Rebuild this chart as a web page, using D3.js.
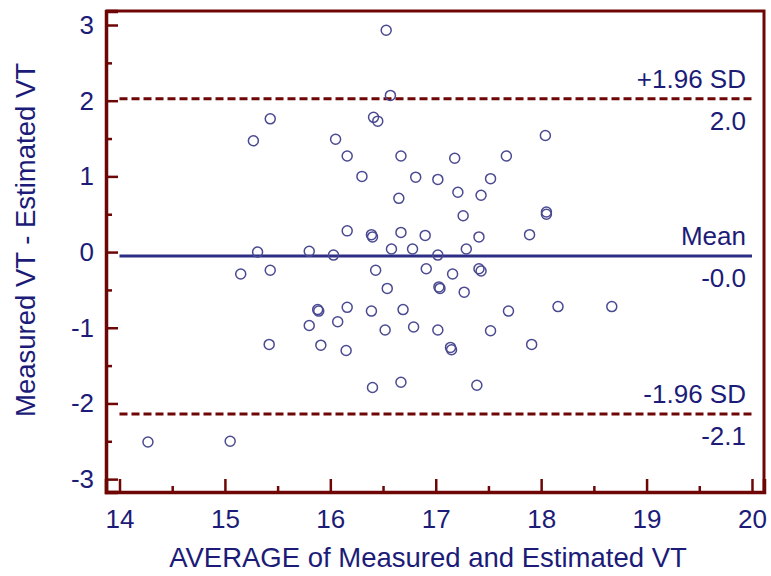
<!DOCTYPE html>
<html>
<head>
<meta charset="utf-8">
<script src="https://cdn.jsdelivr.net/npm/d3@7"></script>
<style>
  body { margin: 0; background: #fff; }
  svg { font-family: "Liberation Sans", Arial, sans-serif; }
</style>
</head>
<body>
<svg id="chart" width="771" height="576"></svg>
<script>
// averages (x) and differences (y)
var avgVT = [16.53, 16.57, 15.43, 15.27, 16.05, 16.16, 16.16, 15.31, 15.80, 16.03, 15.15, 15.43,
  16.41, 16.45, 16.67, 17.18, 17.67, 18.04, 16.30, 16.81, 17.02, 17.52, 16.65, 17.21, 17.43,
  17.26, 18.05, 18.05, 16.39, 16.40, 16.67, 16.90, 17.41, 17.89, 16.58, 16.78, 17.29, 17.02,
  16.43, 16.91, 17.16, 17.41, 17.43, 15.88, 15.89, 15.80, 16.07, 16.16, 15.42, 15.91, 16.15,
  14.27, 15.05, 16.54, 17.03, 17.04, 17.27, 16.39, 16.69, 17.69, 18.16, 18.67, 16.52, 16.79,
  17.02, 17.52, 17.14, 17.15, 17.91, 16.40, 16.67, 17.39];
var diffVT = [2.93, 2.07, 1.76, 1.47, 1.49, 1.27, 0.28, 0.00, 0.01, -0.04, -0.29, -0.24,
  1.78, 1.73, 1.27, 1.24, 1.27, 1.54, 1.00, 0.99, 0.96, 0.97, 0.71, 0.79, 0.75,
  0.48, 0.50, 0.53, 0.23, 0.20, 0.26, 0.22, 0.20, 0.23, 0.04, 0.04, 0.04, -0.04,
  -0.24, -0.22, -0.29, -0.22, -0.25, -0.76, -0.78, -0.97, -0.92, -0.73, -1.22, -1.23, -1.30,
  -2.51, -2.50, -0.48, -0.46, -0.48, -0.53, -0.78, -0.76, -0.78, -0.72, -0.72, -1.03, -0.99,
  -1.03, -1.04, -1.26, -1.29, -1.22, -1.79, -1.72, -1.76];

var meanDiff = -0.053;
var upperLoA = 2.026;
var lowerLoA = -2.14;
var refLines = [
  { value: upperLoA, name: "+1.96 SD", label: "2.0", dashed: true },
  { value: meanDiff, name: "Mean", label: "-0.0", dashed: false },
  { value: lowerLoA, name: "-1.96 SD", label: "-2.1", dashed: true }
];
var xTicks = [14, 15, 16, 17, 18, 19, 20];
var xMinor = [14.5, 15.5, 16.5, 17.5, 18.5, 19.5];
var yTicks = [-3, -2, -1, 0, 1, 2, 3];
var yMinor = [-2.5, -1.5, -0.5, 0.5, 1.5, 2.5];

var frameColor = "#6e0606";
var textColor = "#1c1c78";

var svg = d3.select("#chart");
var pLeft = 106, pRight = 764, pTop = 11, pBottom = 492;

var x = d3.scaleLinear().domain([13.872, 20.114]).range([pLeft, pRight]);
var y = d3.scaleLinear().domain([-3.17, 3.185]).range([pBottom, pTop]);

// plain hyphen for negatives, like the original
var intFmt = function (d) { return String(d); };

// frame (top and right)
svg.append("path")
  .attr("d", "M" + pLeft + "," + pTop + "H" + pRight + "V" + pBottom)
  .attr("fill", "none")
  .attr("stroke", frameColor)
  .attr("stroke-width", 3);

// reference lines
refLines.forEach(function (r) {
  svg.append("line")
    .attr("x1", x(14)).attr("x2", x(20))
    .attr("y1", y(r.value)).attr("y2", y(r.value))
    .attr("stroke", r.dashed ? frameColor : "#2e2e86")
    .attr("stroke-width", 3)
    .attr("stroke-dasharray", r.dashed ? "8,4" : null);
  svg.append("text")
    .attr("x", x(20) - 6).attr("y", y(r.value) - 11)
    .attr("text-anchor", "end")
    .attr("font-size", 26)
    .attr("fill", textColor)
    .text(r.name);
  svg.append("text")
    .attr("x", x(20) - 6).attr("y", y(r.value) + 31)
    .attr("text-anchor", "end")
    .attr("font-size", 26)
    .attr("fill", textColor)
    .text(r.label);
});

// points
svg.append("g").selectAll("circle")
  .data(avgVT)
  .join("circle")
  .attr("cx", function (d) { return x(d); })
  .attr("cy", function (d, i) { return y(diffVT[i]); })
  .attr("r", 5)
  .attr("fill", "none")
  .attr("stroke", "#4a4a92")
  .attr("stroke-width", 1.5);

// axes, ticks pointing inward
function styleAxis(g) {
  g.select(".domain").attr("stroke", frameColor).attr("stroke-width", 3.5);
  g.selectAll(".tick line").attr("stroke", frameColor).attr("stroke-width", 2.5);
  g.selectAll(".tick text").attr("fill", textColor).attr("font-size", 26)
    .attr("font-family", "Liberation Sans, Arial, sans-serif");
}

var xAxis = svg.append("g")
  .attr("transform", "translate(0," + pBottom + ")")
  .call(d3.axisBottom(x).tickValues(xTicks).tickSize(-13).tickFormat(intFmt));
styleAxis(xAxis);
xAxis.selectAll(".tick text").attr("dy", null).attr("y", 36);

var xMin = svg.append("g")
  .attr("transform", "translate(0," + pBottom + ")")
  .call(d3.axisBottom(x).tickValues(xMinor).tickSize(-6).tickFormat(""));
styleAxis(xMin);
xMin.select(".domain").remove();

var yAxis = svg.append("g")
  .attr("transform", "translate(" + pLeft + ",0)")
  .call(d3.axisLeft(y).tickValues(yTicks).tickSize(-12).tickFormat(intFmt));
styleAxis(yAxis);
yAxis.selectAll(".tick text").attr("x", -12);

var yMin = svg.append("g")
  .attr("transform", "translate(" + pLeft + ",0)")
  .call(d3.axisLeft(y).tickValues(yMinor).tickSize(-6).tickFormat(""));
styleAxis(yMin);
yMin.select(".domain").remove();

// axis titles
svg.append("text")
  .attr("x", 428).attr("y", 567)
  .attr("text-anchor", "middle")
  .attr("font-size", 27.5)
  .attr("fill", textColor)
  .text("AVERAGE of Measured and Estimated VT");

svg.append("text")
  .attr("transform", "translate(35,240) rotate(-90)")
  .attr("text-anchor", "middle")
  .attr("font-size", 27.5)
  .attr("fill", textColor)
  .text("Measured VT - Estimated VT");
</script>
</body>
</html>
